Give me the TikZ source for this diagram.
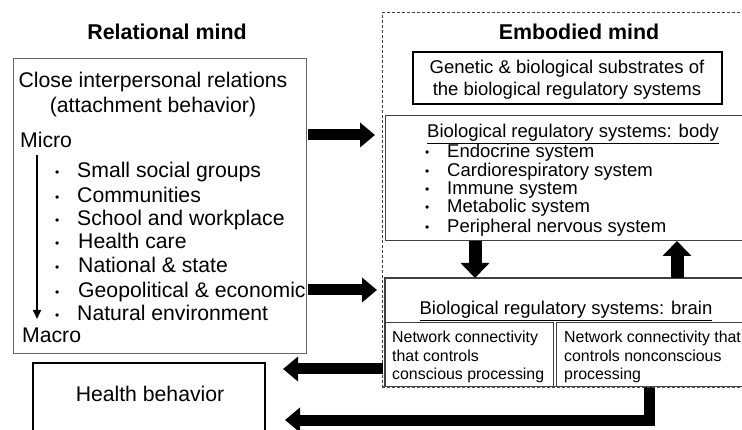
\documentclass[tikz,border=0pt]{standalone}
\usepackage{fontspec}
\setmainfont{Liberation Sans}
\usetikzlibrary{arrows.meta,calc}
\begin{document}
\begin{tikzpicture}[x=1pt,y=-1pt,
  box/.style={rectangle,inner sep=0pt,outer sep=0pt,anchor=north west},
  big/.style={font=\fontsize{21.2}{24}\selectfont,inner sep=0pt},
  bigb/.style={font=\fontsize{21.4}{24}\selectfont\bfseries,inner sep=0pt},
  mid/.style={font=\fontsize{18.5}{20}\selectfont,inner sep=0pt},
  sml/.style={font=\fontsize{15.9}{18}\selectfont,inner sep=0pt},
  bul/.style={font=\fontsize{12}{14}\selectfont,inner sep=0pt,anchor=base west},
  blk/.style={line width=11pt,-{Triangle[length=15pt,width=24pt]}},
  vblk/.style={line width=13pt,-{Triangle[length=15pt,width=28pt]}},
  dashline/.style={draw=black!75,dash pattern=on 3pt off 2pt,line width=1pt}
]
\clip (0,0) rectangle (742,430);
\fill[white] (0,0) rectangle (742,430);

% titles
\node[bigb,anchor=base] (reltitle) at (167,40) {Relational mind};
\node[bigb,anchor=base] (embtitle) at (579,40) {Embodied mind};

% left box
\node[box,draw=black!60,line width=1pt,minimum width=293pt,minimum height=295pt] (rel) at (13,59) {};
\node[big,anchor=base] (close1) at (153,88) {Close interpersonal relations};
\node[big,anchor=base] (close2) at (153,113) {(attachment behavior)};
\node[big,anchor=base west] (micro) at (20,148) {Micro};
\node[big,anchor=base west] (macro) at (22,343) {Macro};
\foreach \t/\yy/\xx [count=\i] in {Small social groups/178/77,Communities/203/77,School and workplace/226/77,Health care/249/78,National \& state/273/78,Geopolitical \& economic/298/78,Natural environment/321/77}{
  \node[bul] (lb\i) at (55,\yy-1) {•};
  \node[big,anchor=base west] (li\i) at (\xx,\yy) {\t};
}
\draw[line width=1.6pt,-{Triangle[length=9pt,width=8pt]}] ($(rel.north west)+(24,96)$) -- ($(rel.north west)+(24,260)$);

% health behavior
\node[box,draw=black,line width=2pt,minimum width=232pt,minimum height=90pt] (health) at (33,363) {};
\node[big,anchor=base] (htext) at (150,402) {Health behavior};

% embodied region (dashed outline)
\coordinate (dnw) at (382,13);
\coordinate (dsw) at (382,387);
\coordinate (dse) at (760,387);
\coordinate (dne) at (760,13);
\draw[dashline] (dne) -- (dnw) -- (dsw) -- (dse);

% genetic box
\node[box,draw=black,line width=1.6pt,minimum width=309pt,minimum height=52pt] (gen) at (413,52) {};
\node[mid,anchor=base] (gen1) at (567,74) {Genetic \& biological substrates of};
\node[mid,anchor=base] (gen2) at (567,96) {the biological regulatory systems};

% body box
\node[box,draw=black!75,line width=1pt,minimum width=380pt,minimum height=125pt] (body) at (385,116) {};
\node[mid,anchor=base west] (bodyt) at (427,138) {\underline{Biological regulatory systems: body}};
\foreach \t/\yy [count=\i] in {Endocrine system/158,Cardiorespiratory system/177,Immune system/195,Metabolic system/213,Peripheral nervous system/233}{
  \node[bul] (bb\i) at (425,\yy-1) {•};
  \node[mid,anchor=base west] (bi\i) at (447,\yy) {\t};
}

% brain box
\node[box,minimum width=380pt,minimum height=109pt] (brain) at (385,278) {};
\draw[draw=black!75,line width=1.2pt] (brain.south west) -- (brain.north west) -- (brain.north east);
\node[mid,anchor=base] (braint) at (566,315) {\underline{Biological regulatory systems: brain}};
\node[box,minimum width=168pt,minimum height=64pt] (consc) at (385,323) {};
\node[box,minimum width=194pt,minimum height=64pt] (nonc) at (556,323) {};
\draw[draw=black!75,line width=1pt] (consc.south west) -- (consc.north west) -- (consc.north east) -- (consc.south east);
\draw[draw=black!75,line width=1pt] (nonc.south west) -- (nonc.north west) -- (nonc.north east);
\node[sml,anchor=base west] (c1) at (392,343) {Network connectivity};
\node[sml,anchor=base west] (c2) at (392,362) {that controls};
\node[sml,anchor=base west] (c3) at (392,380) {conscious processing};
\node[sml,anchor=base west] (n1) at (564,343) {Network connectivity that};
\node[sml,anchor=base west] (n2) at (564,362) {controls nonconscious};
\node[sml,anchor=base west] (n3) at (564,380) {processing};

% arrows
\draw[blk] ($(rel.north east)+(2,76)$) -- ($(dnw)+(-7,122)$);
\draw[blk] ($(rel.north east)+(2,231)$) -- ($(brain.north west)+(-8,12)$);
\draw[blk] ($(consc.south west)+(-2,-18)$) -- ($(health.north east)+(18,6)$);
\draw[line width=11pt,-{Triangle[length=15pt,width=24pt]},line join=miter]
  ($(nonc.south west)+(93,0)$) -- ($(nonc.south west)+(93,33)$) -- ($(health.north east)+(20,57)$);
\draw[vblk] ($(body.south west)+(90,0)$) -- ($(brain.north west)+(90,0)$);
\draw[vblk] ($(brain.north west)+(292,0)$) -- ($(body.south west)+(292,0)$);

% dashed bottom edge drawn last
\draw[draw=black!70,dash pattern=on 3pt off 2pt,line width=1.3pt] (dsw) -- (dse);
\end{tikzpicture}
\end{document}
